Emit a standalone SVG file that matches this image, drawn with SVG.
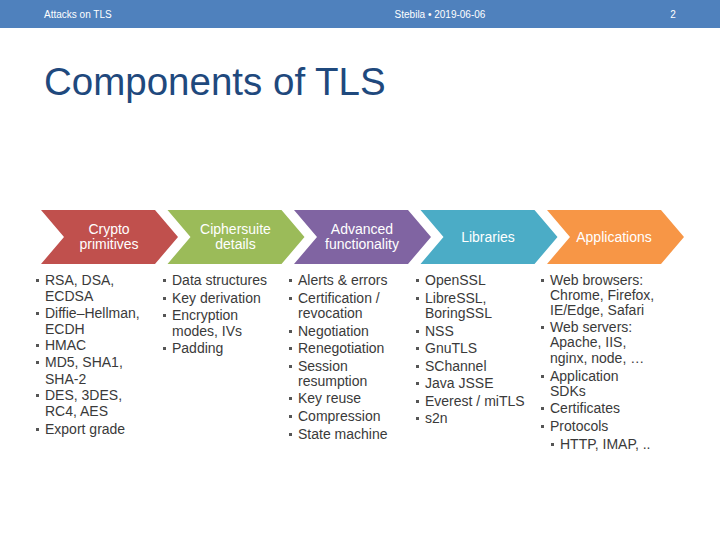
<svg xmlns="http://www.w3.org/2000/svg" width="720" height="540" viewBox="0 0 720 540">
<style>
.hdr{font-family:"Liberation Sans",Arial,sans-serif;font-size:10px;fill:#ffffff}
.title{font-family:"Liberation Sans",Arial,sans-serif;font-size:38.5px;fill:#1F497D}
.lbl{font-family:"Liberation Sans",Arial,sans-serif;font-size:14px;fill:#ffffff;text-anchor:middle}
.li{font-family:"Liberation Sans",Arial,sans-serif;font-size:14px;fill:#3a3a3a}
.b{fill:#555555}
</style>
<defs>
<polygon id="chev" points="0,0 114,0 137,27 114,54 0,54 23,27"/>
<rect id="bul" width="3" height="3"/>
</defs>
<rect x="0" y="0" width="720" height="28" fill="#4F81BD"/>
<text class="hdr" x="44" y="18">Attacks on TLS</text>
<text class="hdr" x="440" y="18" text-anchor="middle">Stebila • 2019-06-06</text>
<text class="hdr" x="673" y="18" text-anchor="middle">2</text>
<text class="title" x="44" y="95">Components of TLS</text>

<g id="crypto">
<use href="#chev" x="41" y="210" fill="#C0504D"/>
<text class="lbl" x="109" y="234">Crypto</text>
<text class="lbl" x="109" y="249">primitives</text>
</g>
<g id="ciphersuite">
<use href="#chev" x="167.5" y="210" fill="#9BBB59"/>
<text class="lbl" x="235.5" y="234">Ciphersuite</text>
<text class="lbl" x="235.5" y="249">details</text>
</g>
<g id="advanced">
<use href="#chev" x="294" y="210" fill="#8064A2"/>
<text class="lbl" x="362" y="234">Advanced</text>
<text class="lbl" x="362" y="249">functionality</text>
</g>
<g id="libraries">
<use href="#chev" x="420.5" y="210" fill="#4BACC6"/>
<text class="lbl" x="488" y="242">Libraries</text>
</g>
<g id="applications">
<use href="#chev" x="547" y="210" fill="#F79646"/>
<text class="lbl" x="614" y="242">Applications</text>
</g>

<g id="list-crypto">
<g class="b">
<use href="#bul" x="36" y="279"/><use href="#bul" x="36" y="312"/><use href="#bul" x="36" y="344"/>
<use href="#bul" x="36" y="361"/><use href="#bul" x="36" y="394"/><use href="#bul" x="36" y="428"/>
</g>
<text class="li" x="45" y="285">RSA, DSA,</text>
<text class="li" x="45" y="301">ECDSA</text>
<text class="li" x="45" y="318">Diffie–Hellman,</text>
<text class="li" x="45" y="334">ECDH</text>
<text class="li" x="45" y="350">HMAC</text>
<text class="li" x="45" y="367">MD5, SHA1,</text>
<text class="li" x="45" y="384">SHA-2</text>
<text class="li" x="45" y="400">DES, 3DES,</text>
<text class="li" x="45" y="416">RC4, AES</text>
<text class="li" x="45" y="434">Export grade</text>
</g>

<g id="list-ciphersuite">
<g class="b">
<use href="#bul" x="163" y="279"/><use href="#bul" x="163" y="297"/><use href="#bul" x="163" y="314"/><use href="#bul" x="163" y="347"/>
</g>
<text class="li" x="172" y="285">Data structures</text>
<text class="li" x="172" y="303">Key derivation</text>
<text class="li" x="172" y="320">Encryption</text>
<text class="li" x="172" y="336">modes, IVs</text>
<text class="li" x="172" y="353">Padding</text>
</g>

<g id="list-advanced">
<g class="b">
<use href="#bul" x="289" y="279"/><use href="#bul" x="289" y="297"/><use href="#bul" x="289" y="330"/>
<use href="#bul" x="289" y="347"/><use href="#bul" x="289" y="365"/><use href="#bul" x="289" y="397"/>
<use href="#bul" x="289" y="415"/><use href="#bul" x="289" y="433"/>
</g>
<text class="li" x="298" y="285">Alerts &amp; errors</text>
<text class="li" x="298" y="303">Certification /</text>
<text class="li" x="298" y="318">revocation</text>
<text class="li" x="298" y="336">Negotiation</text>
<text class="li" x="298" y="353">Renegotiation</text>
<text class="li" x="298" y="371">Session</text>
<text class="li" x="298" y="386">resumption</text>
<text class="li" x="298" y="403">Key reuse</text>
<text class="li" x="298" y="421">Compression</text>
<text class="li" x="298" y="439">State machine</text>
</g>

<g id="list-libraries">
<g class="b">
<use href="#bul" x="416" y="279"/><use href="#bul" x="416" y="297"/><use href="#bul" x="416" y="330"/>
<use href="#bul" x="416" y="347"/><use href="#bul" x="416" y="365"/><use href="#bul" x="416" y="382"/>
<use href="#bul" x="416" y="400"/><use href="#bul" x="416" y="417"/>
</g>
<text class="li" x="425" y="285">OpenSSL</text>
<text class="li" x="425" y="303">LibreSSL,</text>
<text class="li" x="425" y="318">BoringSSL</text>
<text class="li" x="425" y="336">NSS</text>
<text class="li" x="425" y="353">GnuTLS</text>
<text class="li" x="425" y="371">SChannel</text>
<text class="li" x="425" y="388">Java JSSE</text>
<text class="li" x="425" y="406">Everest / miTLS</text>
<text class="li" x="425" y="423">s2n</text>
</g>

<g id="list-applications">
<g class="b">
<use href="#bul" x="541" y="279"/><use href="#bul" x="541" y="326"/><use href="#bul" x="541" y="375"/>
<use href="#bul" x="541" y="407"/><use href="#bul" x="541" y="425"/><use href="#bul" x="551" y="443"/>
</g>
<text class="li" x="550" y="285">Web browsers:</text>
<text class="li" x="550" y="300">Chrome, Firefox,</text>
<text class="li" x="550" y="315">IE/Edge, Safari</text>
<text class="li" x="550" y="332">Web servers:</text>
<text class="li" x="550" y="347">Apache, IIS,</text>
<text class="li" x="550" y="363">nginx, node, …</text>
<text class="li" x="550" y="381">Application</text>
<text class="li" x="550" y="396">SDKs</text>
<text class="li" x="550" y="413">Certificates</text>
<text class="li" x="550" y="431">Protocols</text>
<text class="li" x="560" y="449">HTTP, IMAP, ..</text>
</g>
</svg>
